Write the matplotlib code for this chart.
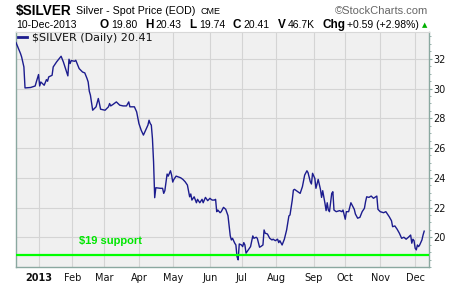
import matplotlib
matplotlib.use("Agg")
import matplotlib.pyplot as plt
import pandas as pd

# daily closes (approximate)
dates = [
    "2012-12-13", "2012-12-17", "2012-12-18", "2012-12-20", "2012-12-21", "2012-12-26", "2012-12-30", "2012-12-31",
    "2013-01-02", "2013-01-03", "2013-01-04", "2013-01-07", "2013-01-09", "2013-01-10", "2013-01-11", "2013-01-14",
    "2013-01-15", "2013-01-18", "2013-01-22", "2013-01-24", "2013-01-28", "2013-01-29", "2013-01-30", "2013-01-31",
    "2013-02-03", "2013-02-04", "2013-02-07", "2013-02-10", "2013-02-12", "2013-02-14", "2013-02-15", "2013-02-16",
    "2013-02-17", "2013-02-19", "2013-02-22", "2013-02-24", "2013-02-25", "2013-02-26",
    "2013-03-02", "2013-03-05", "2013-03-06", "2013-03-07", "2013-03-09", "2013-03-12", "2013-03-15", "2013-03-18",
    "2013-03-21", "2013-03-23", "2013-03-24", "2013-03-28", "2013-03-30",
    "2013-04-01", "2013-04-03", "2013-04-05", "2013-04-07", "2013-04-09", "2013-04-10", "2013-04-11", "2013-04-12",
    "2013-04-13", "2013-04-14", "2013-04-15", "2013-04-16", "2013-04-20", "2013-04-22", "2013-04-23", "2013-04-24",
    "2013-04-26", "2013-04-27", "2013-04-29", "2013-04-30",
    "2013-05-01", "2013-05-02", "2013-05-04", "2013-05-08", "2013-05-10", "2013-05-12", "2013-05-14", "2013-05-16",
    "2013-05-17", "2013-05-18", "2013-05-20", "2013-05-22", "2013-05-23", "2013-05-25", "2013-05-27", "2013-05-28",
    "2013-05-30", "2013-06-01", "2013-06-03",
    "2013-06-04", "2013-06-05", "2013-06-07", "2013-06-08", "2013-06-09", "2013-06-10", "2013-06-12", "2013-06-13",
    "2013-06-15", "2013-06-17", "2013-06-19", "2013-06-21", "2013-06-22", "2013-06-23", "2013-06-25", "2013-06-26",
    "2013-06-27", "2013-06-28", "2013-06-29",
    "2013-07-01", "2013-07-02", "2013-07-03", "2013-07-04", "2013-07-05", "2013-07-07", "2013-07-09", "2013-07-11",
    "2013-07-12", "2013-07-14", "2013-07-15", "2013-07-17", "2013-07-18", "2013-07-20", "2013-07-21", "2013-07-22",
    "2013-07-24", "2013-07-26", "2013-07-28", "2013-07-29", "2013-07-31",
    "2013-08-02", "2013-08-03", "2013-08-04", "2013-08-06", "2013-08-08", "2013-08-10", "2013-08-12", "2013-08-13",
    "2013-08-15", "2013-08-16", "2013-08-17", "2013-08-20", "2013-08-22", "2013-08-24", "2013-08-26", "2013-08-28",
    "2013-08-29", "2013-08-31", "2013-09-01", "2013-09-02",
    "2013-09-04", "2013-09-05", "2013-09-07", "2013-09-09", "2013-09-10", "2013-09-11", "2013-09-13", "2013-09-14",
    "2013-09-15", "2013-09-16", "2013-09-17", "2013-09-19", "2013-09-20", "2013-09-21", "2013-09-23", "2013-09-26",
    "2013-09-28", "2013-09-29",
    "2013-10-01", "2013-10-02", "2013-10-04", "2013-10-06", "2013-10-07", "2013-10-09", "2013-10-10", "2013-10-12",
    "2013-10-14", "2013-10-16", "2013-10-18", "2013-10-19", "2013-10-20", "2013-10-22", "2013-10-24", "2013-10-26",
    "2013-10-28", "2013-10-29", "2013-10-30",
    "2013-11-01", "2013-11-04", "2013-11-06", "2013-11-09", "2013-11-11", "2013-11-12", "2013-11-14", "2013-11-16",
    "2013-11-18", "2013-11-20", "2013-11-22", "2013-11-24", "2013-11-26", "2013-11-28", "2013-11-29", "2013-11-30",
    "2013-12-01",
    "2013-12-02", "2013-12-03", "2013-12-04", "2013-12-05", "2013-12-06", "2013-12-08", "2013-12-09", "2013-12-10",
]
closes = [
    33.09, 32.35, 32.12, 31.45, 30.04, 30.07, 30.17, 30.44,
    30.94, 30.17, 30.44, 30.22, 30.60, 30.49, 30.78, 30.89,
    31.45, 31.79, 32.17, 31.79, 30.85, 31.97, 31.68, 31.88,
    31.83, 31.90, 31.34, 31.11, 31.05, 30.67, 30.44, 29.82,
    29.55, 28.54, 28.77, 29.33, 28.99, 28.61,
    28.54, 28.77, 28.99, 28.83, 28.93, 29.10, 28.88, 28.83,
    28.83, 29.10, 28.77, 28.77, 28.43,
    27.65, 27.20, 26.87, 27.20, 27.54, 27.87, 27.65, 27.54,
    26.64, 25.07, 22.66, 23.33, 23.29, 23.29, 22.95, 23.13,
    24.25, 24.11, 24.47, 24.18,
    23.71, 23.89, 24.11, 24.00, 23.89, 23.73, 23.51, 22.72,
    22.91, 22.50, 22.72, 22.32, 22.55, 22.32, 22.55, 22.32,
    22.68, 22.46, 22.62,
    22.55, 22.50, 22.50, 22.55, 21.72, 21.83, 21.65, 21.72,
    22.01, 21.88, 21.45, 20.10, 19.82, 19.93, 19.60, 19.48,
    18.70, 18.48, 19.55,
    19.48, 19.37, 19.64, 19.48, 18.93, 19.15, 19.37, 20.09,
    19.93, 20.00, 19.93, 19.33, 19.37, 19.48, 20.49, 20.27,
    20.22, 19.93, 19.82, 19.87, 19.77,
    19.87, 19.64, 19.77, 19.48, 19.87, 20.49, 21.43, 21.50,
    22.50, 23.17, 23.22, 23.06, 22.95, 23.40, 24.18, 24.47,
    24.34, 23.73, 23.58, 24.30,
    23.96, 23.29, 23.89, 23.22, 22.68, 23.13, 22.28, 21.79,
    22.32, 21.83, 21.72, 22.95, 23.06, 21.83, 21.72, 21.79,
    21.72, 21.83,
    21.21, 21.72, 21.72, 22.32, 22.17, 21.88, 21.56, 21.28,
    21.34, 21.72, 21.95, 22.39, 22.72, 22.68, 22.77, 22.62,
    22.72, 22.77, 21.88,
    21.72, 21.65, 21.72, 21.38, 21.11, 20.71, 20.76, 20.54,
    20.27, 19.93, 20.00, 19.87, 20.00, 20.15, 19.60, 19.87,
    19.77,
    19.26, 19.15, 19.48, 19.37, 19.48, 19.82, 20.15, 20.41,
]

month_dates = ["2013-01-02", "2013-02-01", "2013-03-01", "2013-04-01", "2013-05-01", "2013-06-03",
               "2013-07-01", "2013-08-01", "2013-09-03", "2013-10-01", "2013-11-01", "2013-12-02"]
month_labels = ["2013", "Feb", "Mar", "Apr", "May", "Jun", "Jul", "Aug", "Sep", "Oct", "Nov", "Dec"]
y_ticks = [20, 22, 24, 26, 28, 30, 32]

support_level = 18.8
support_text = "$19 support"
support_text_at = ("2013-02-07", 19.72)

quote = [("O", "19.80"), ("H", "20.43"), ("L", "19.74"), ("C", "20.41"), ("V", "46.7K"), ("Chg", "+0.59 (+2.98%)")]

W, H = 460, 284
fig = plt.figure(figsize=(W / 100, H / 100), dpi=100)
fig.patch.set_facecolor("white")

ax = fig.add_axes([16 / W, 1 - 267 / H, (428.7 - 16) / W, (267 - 32) / H])
ax.set_facecolor("#f0f0f0")

x = pd.to_datetime(dates)
ax.plot(x, closes, color="#1c1c8e", lw=1.0, zorder=3)
ax.axhline(support_level, color="#00ff00", lw=1.6, zorder=4)
ax.text(pd.Timestamp(support_text_at[0]), support_text_at[1], support_text,
        color="#00e600", fontsize=8, fontweight="bold", family="Liberation Sans", va="center", zorder=5)

ax.set_xlim(pd.Timestamp("2012-12-13"), pd.Timestamp("2013-12-14"))
ax.set_ylim(18.0, 33.8)

ax.set_xticks(pd.to_datetime(month_dates))
ax.set_xticklabels(month_labels)
ax.get_xticklabels()[0].set_fontweight("bold")
ax.set_yticks(y_ticks)
ax.set_yticks([v / 2 for v in range(36, 68)], minor=True)
ax.yaxis.tick_right()
ax.tick_params(axis="y", which="major", labelsize=7, length=2.5, pad=1, color="#8aa8a0")
ax.tick_params(axis="y", which="minor", length=1.2, color="#8aa8a0")
ax.tick_params(axis="x", labelsize=7, length=0, pad=4)
for lab in ax.get_xticklabels() + ax.get_yticklabels():
    lab.set_color("#111111")

ax.grid(True, color="#d4d4d4", lw=0.8, zorder=0)
for side in ["left", "right", "bottom"]:
    ax.spines[side].set_color("#8aa8a0")
    ax.spines[side].set_linewidth(1.0)
ax.spines["top"].set_color("#d8d8d8")
ax.spines["top"].set_linewidth(0.8)

# legend line
ax.plot([], [], color="#1c1c8e", lw=2, label="$SILVER (Daily) 20.41")
leg = ax.legend(loc="upper left", frameon=False, fontsize=8, handlelength=0.8, handletextpad=0.4,
                borderaxespad=0.0, borderpad=0.05, bbox_to_anchor=(0.004, 0.998))
leg.get_texts()[0].set_color("#111111")


def fx(px):
    return px / W


def fy(py):
    return 1 - py / H


renderer = fig.canvas.get_renderer()


def put_run(x0, ybase, pieces):
    cur = x0
    for txt, weight, size, color, gap in pieces:
        t = fig.text(fx(cur), fy(ybase), txt, fontsize=size, fontweight=weight, color=color,
                     family="Liberation Sans", va="baseline", ha="left")
        bb = t.get_window_extent(renderer)
        cur += bb.width + gap


# header line 1
put_run(16, 14.5, [("$SILVER", "bold", 9.8, "black", 4),
                   ("Silver - Spot Price (EOD)", "normal", 7.7, "black", 5),
                   ("CME", "normal", 6.5, "black", 0)])
fig.text(fx(428.5), fy(14.5), "\u00a9StockCharts.com", fontsize=8, color="#666666",
         family="Liberation Sans", ha="right", va="baseline")

# header line 2
fig.text(fx(16), fy(28), "10-Dec-2013", fontsize=7.5, family="Liberation Sans", va="baseline")
pieces = []
for key, val in quote:
    pieces.append((key, "bold", 8.5, "black", 2))
    pieces.append((val, "normal", 7.5, "black", 8))
put_run(100, 28, pieces)
fig.text(fx(424.5), fy(27.5), "\u25b2", fontsize=5, color="#00b000", ha="center", va="baseline")

fig.savefig("out.png", dpi=100)
